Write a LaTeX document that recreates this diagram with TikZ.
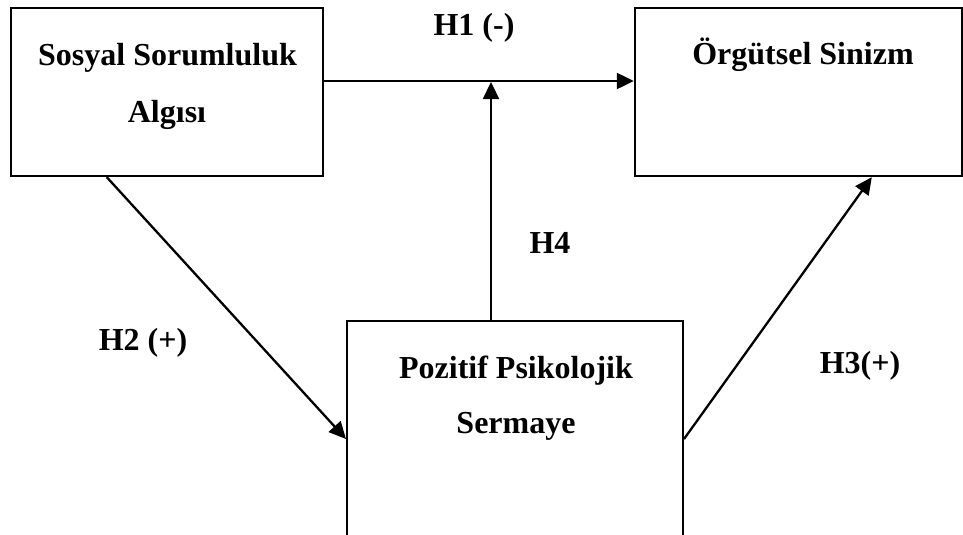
\documentclass[tikz,border=0pt]{standalone}
\usepackage{fontspec}
\setmainfont{Liberation Serif}
\usetikzlibrary{arrows.meta,calc}
\begin{document}
\begin{tikzpicture}[x=1pt,y=-1pt,
  box/.style={draw=black,line width=2.4pt,rectangle,inner sep=0pt,fill=none},
  txt/.style={anchor=base,inner sep=0pt,font=\fontsize{32}{38}\selectfont\bfseries},
  arr/.style={line width=2.3pt,-{Triangle[length=17pt,width=16pt]}}]
\useasboundingbox (0,0) rectangle (963,535);
\clip (0,0) rectangle (963,535);
\fill[white] (0,0) rectangle (963,535);
% boxes
\node[box,minimum width=312pt,minimum height=168pt] (A) at (167,92) {};
\node[box,minimum width=327pt,minimum height=168pt] (B) at (798.5,92) {};
\node[box,line width=2pt,minimum width=336pt,minimum height=299pt] (C) at (515,470.5) {};
% box texts
\node[txt] (a1) at (167.5,66) {Sosyal Sorumluluk};
\node[txt] (a2) at (167,122) {Algısı};
\node[txt] (b1) at (803,65) {Örgütsel Sinizm};
\node[txt] (c1) at (516,378) {Pozitif Psikolojik};
\node[txt] (c2) at (516,433) {Sermaye};
% connector end points
\coordinate (h1s) at ($(A.east)+(0,-11)$);
\coordinate (h1e) at (B.west |- h1s);
\coordinate (h4s) at ($(C.north)+(-24,0)$);
\coordinate (h2s) at ($(A.south west)+(97,0)$);
\coordinate (h2e) at ($(C.north west)+(0,119)$);
\coordinate (h3s) at ($(C.north east)+(0,119)$);
\coordinate (h3e) at ($(B.south west)+(238,0)$);
% connectors
\draw[arr] (h1s) -- (h1e);
\draw[arr,shorten >=1pt] (h4s) -- (h4s |- h1s);
\draw[arr] (h2s) -- (h2e);
\draw[arr] (h3s) -- (h3e);
% labels
\node[txt] (l1) at (474,36) {H1 (-)};
\node[txt] (l4) at (550,253) {H4};
\node[txt] (l2) at (143,350) {H2 (+)};
\node[txt] (l3) at (860,373) {H3(+)};
\end{tikzpicture}
\end{document}
